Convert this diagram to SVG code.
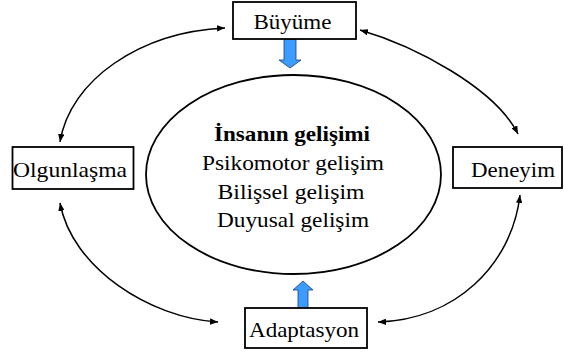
<svg xmlns="http://www.w3.org/2000/svg" width="564" height="354" viewBox="0 0 564 354">
<style>
.box{fill:#fff;stroke:#000;stroke-width:1.8}
text{font-family:'Liberation Serif','Times New Roman','DejaVu Serif',serif;font-size:21px;fill:#000;text-anchor:middle}
.b{font-weight:bold}
.con{fill:none;stroke:#000;stroke-width:1.5}
.blue{fill:#3d9cff;stroke:#1b3f73;stroke-width:0.8}
</style>
<defs>
<marker id="ah" viewBox="0 0 10 8" refX="10" refY="4" markerWidth="8" markerHeight="6.4" markerUnits="userSpaceOnUse" orient="auto-start-reverse">
<path d="M0,0 L10,4 L0,8 Z" fill="#000"/>
</marker>
</defs>
<rect width="564" height="354" fill="#fff"/>
<g id="connectors">
<path class="con" d="M225,28 C140,32 70,80 60,142" marker-start="url(#ah)" marker-end="url(#ah)"/>
<path class="con" d="M360,30 C415,46 495,88 518,134" marker-start="url(#ah)" marker-end="url(#ah)"/>
<path class="con" d="M60,203 C72,268 150,318 218,322" marker-start="url(#ah)" marker-end="url(#ah)"/>
<path class="con" d="M520,195 C512,265 455,320 378,322" marker-start="url(#ah)" marker-end="url(#ah)"/>
<path class="blue" d="M284,39 L296,39 L296,60 L301,60 L290,68 L279,60 L284,60 Z"/>
<path class="blue" d="M298,308 L308,308 L308,290 L313,290 L303,281 L293,290 L298,290 Z"/>
</g>
<g id="center">
<ellipse cx="293.5" cy="174.5" rx="147.5" ry="99.5" fill="#fff" stroke="#000" stroke-width="1.8"/>
<text class="b" x="292" y="141" textLength="156" lengthAdjust="spacingAndGlyphs">İnsanın gelişimi</text>
<text x="293" y="170" textLength="182" lengthAdjust="spacingAndGlyphs">Psikomotor gelişim</text>
<text x="291" y="199" textLength="147" lengthAdjust="spacingAndGlyphs">Bilişsel gelişim</text>
<text x="293" y="227" textLength="152" lengthAdjust="spacingAndGlyphs">Duyusal gelişim</text>
</g>
<g id="buyume">
<rect class="box" x="233" y="2" width="123" height="37"/>
<text x="292.5" y="29" textLength="78" lengthAdjust="spacingAndGlyphs">Büyüme</text>
</g>
<g id="olgunlasma">
<rect class="box" x="12.5" y="147" width="121" height="42"/>
<text x="70" y="177" textLength="114" lengthAdjust="spacingAndGlyphs">Olgunlaşma</text>
</g>
<g id="deneyim">
<rect class="box" x="453" y="147" width="109" height="41"/>
<text x="513" y="177" textLength="84" lengthAdjust="spacingAndGlyphs">Deneyim</text>
</g>
<g id="adaptasyon">
<rect class="box" x="245" y="308" width="122" height="40"/>
<text x="304" y="337" textLength="110" lengthAdjust="spacingAndGlyphs">Adaptasyon</text>
</g>
</svg>
